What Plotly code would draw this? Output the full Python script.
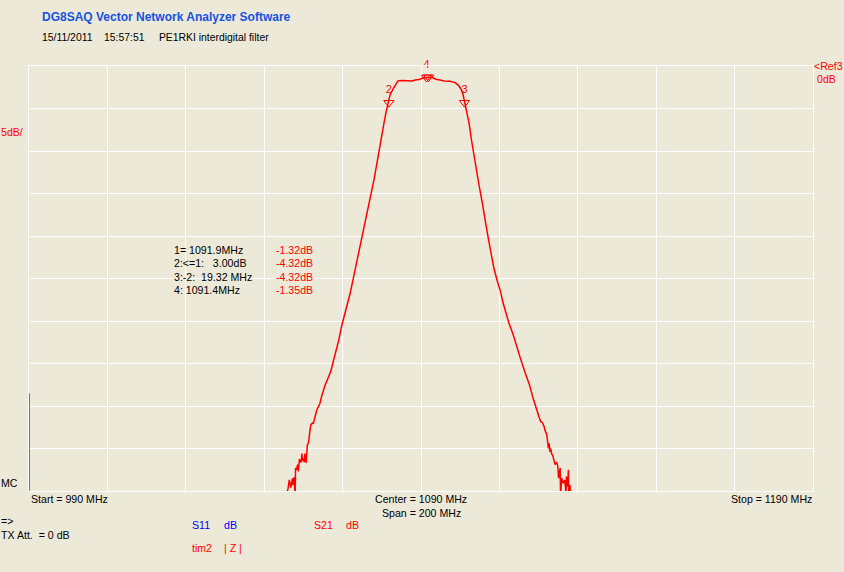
import plotly.graph_objects as go

# ---------------- data ----------------
# S21 trace of the interdigital filter (MHz, dB); None separates the start glitch
freq_mhz = [990, 990, None,
            1055.0, 1055.3, 1056.1, 1056.4, 1056.8, 1057.0, 1057.2, 1057.4, 1057.6, 1057.9,
            1058.0, 1058.3, 1058.5, 1058.7, 1059.0, 1059.1, 1059.3, 1059.5, 1059.6, 1059.8,
            1060.0, 1060.2, 1060.4, 1060.7, 1060.8, 1061.0, 1061.3, 1061.4, 1061.7, 1061.9,
            1062.3, 1062.5, 1063.0, 1063.4, 1063.8, 1064.2, 1064.7, 1065.5, 1066.3, 1067.0,
            1067.6, 1068.3, 1069.1, 1069.8, 1070.9, 1071.9, 1072.9, 1073.9, 1074.9, 1076.0,
            1077.0, 1078.0, 1079.0, 1079.8, 1080.6, 1081.1, 1081.6, 1082.1, 1082.9, 1083.6,
            1084.1, 1085.2, 1086.4, 1087.7, 1088.5, 1089.5, 1090.3, 1091.3, 1091.8, 1092.8,
            1093.8, 1094.8, 1095.9, 1097.4, 1098.7, 1099.5, 1100.2, 1100.7, 1101.2, 1101.7,
            1102.3, 1102.8, 1103.3, 1104.0, 1104.8, 1105.6, 1106.3, 1107.1, 1107.9, 1108.6,
            1109.4, 1110.2, 1110.9, 1111.7, 1112.4, 1113.5, 1114.5, 1115.5, 1116.5, 1117.6,
            1118.6, 1119.1, 1119.5, 1119.9, 1120.2, 1120.5, 1121.0, 1121.4, 1121.6, 1122.1,
            1122.3, 1122.5, 1122.7, 1122.9, 1123.1, 1123.3, 1123.6, 1123.9, 1124.2, 1124.6,
            1124.9, 1125.1, 1125.5, 1125.6, 1125.9, 1126.3, 1126.7, 1127.0, 1127.1, 1127.4,
            1127.6, 1127.7, 1128.0, 1128.2, 1128.5]
s21_db = [-38.5, -52, None,
          -52.0, -51.0, -49.7, -48.7, -49.6, -48.9, -48.5, -49.3, -48.4, -50.5,
          -47.3, -47.5, -46.9, -47.7, -46.2, -46.7, -46.3, -46.6, -45.6, -46.4,
          -46.2, -46.6, -45.6, -46.7, -45.2, -44.6, -44.3, -43.6, -42.8, -42.2,
          -42.0, -42.1, -41.1, -40.5, -40.1, -39.7, -38.8, -37.6, -36.7, -35.9,
          -34.8, -33.6, -32.1, -30.5, -28.7, -26.8, -24.6, -22.4, -20.2, -18.1,
          -15.8, -13.4, -10.8, -8.5, -6.6, -5.4, -4.35, -3.4, -2.7, -2.1,
          -1.76, -1.7, -1.76, -1.76, -1.65, -1.6, -1.45, -1.35, -1.32, -1.35,
          -1.55, -1.65, -1.76, -1.8, -1.95, -2.25, -2.7, -3.3, -4.35, -5.4,
          -6.8, -8.5, -10.0, -12.0, -14.0, -16.0, -18.1, -20.1, -22.1, -23.8,
          -25.2, -26.4, -27.8, -29.2, -30.2, -31.6, -33.2, -34.6, -36.0, -37.4,
          -39.1, -39.9, -40.5, -41.1, -41.4, -41.8, -42.0, -42.4, -42.8, -43.4,
          -44.2, -45.0, -44.4, -45.4, -45.0, -45.6, -45.8, -46.4, -46.9, -46.6,
          -47.1, -48.5, -47.3, -50.5, -48.5, -49.1, -48.7, -50.5, -48.3, -49.5,
          -47.5, -50.5, -49.3, -51.5, -52.0]

# markers (MHz, dB); marker 1's number is hidden under marker 4's, as in the original
marker_ids = ["2", "3", "", "4"]
marker_freq = [1081.8, 1101.1, 1091.9, 1091.4]
marker_db = [-4.32, -4.32, -1.32, -1.35]

# marker readout table
table_labels = ["1= 1091.9MHz", "2:&lt;=1:\u00a0\u00a0 3.00dB", "3:-2:\u00a0 19.32 MHz", "4: 1091.4MHz"]
table_values = ["-1.32dB", "-4.32dB", "-4.32dB", "-1.35dB"]

x_start, x_stop, x_step = 990, 1190, 20
y_ref, y_bottom, y_step = 0, -50, 5

# ---------------- figure ----------------
BG = "#ECE9D8"
RED = "#FF0000"
BLUE = "#0000FF"
FONT = "Liberation Sans, Arial, sans-serif"
FS = 10.6

W, H = 844, 572
L, R, T, B = 29, 813, 66, 491


def px(x):
    return (x - L) / (R - L)


def py(y):
    return (B - y) / (B - T)


fig = go.Figure()
fig.add_trace(go.Scatter(x=freq_mhz, y=s21_db, mode="lines",
                         line=dict(color=RED, width=1.5), connectgaps=False,
                         hoverinfo="skip", showlegend=False))
fig.add_trace(go.Scatter(x=marker_freq, y=marker_db, mode="markers+text",
                         text=marker_ids, textposition="top center",
                         textfont=dict(family=FONT, size=11, color=RED),
                         marker=dict(symbol="triangle-down-open", size=9,
                                     color=RED, line=dict(color=RED, width=1)),
                         hoverinfo="skip", showlegend=False, cliponaxis=False))

annotations = []


def txt(x, y, s, color="black", anchor="left", size=FS, bold=False):
    if bold:
        s = "<b>" + s + "</b>"
    annotations.append(dict(x=px(x), y=py(y), xref="paper", yref="paper", text=s,
                            showarrow=False, xanchor=anchor, yanchor="middle",
                            borderpad=0,
                            font=dict(family=FONT, size=size, color=color)))


txt(41, 17, "DG8SAQ Vector Network Analyzer Software", color="#1452E0", size=12, bold=True)
txt(41, 37, "15/11/2011\u00a0\u00a0\u00a0 15:57:51\u00a0\u00a0\u00a0\u00a0 PE1RKI interdigital filter", size=10.4)
txt(813, 66, "&lt;Ref3", color=RED)
txt(816, 79, "0dB", color=RED)
txt(0, 132, "5dB/", color=RED)
txt(0, 483, "MC")
txt(30, 499, "Start = 990 MHz")
txt(421, 499, "Center = 1090 MHz", anchor="center")
txt(421, 513, "Span = 200 MHz", anchor="center")
txt(813, 499, "Stop = 1190 MHz", anchor="right")
txt(0, 521, "=&gt;")
txt(0, 535, "TX Att.\u00a0 = 0 dB")
txt(191, 525, "S11", color=BLUE)
txt(223, 525, "dB", color=BLUE)
txt(313, 525, "S21", color=RED)
txt(345, 525, "dB", color=RED)
txt(191, 548, "tim2", color=RED)
txt(223, 548, "| Z |", color=RED)

for i, (lab, val) in enumerate(zip(table_labels, table_values)):
    yy = 250 + i * 13.4
    txt(173, yy, lab)
    txt(275, yy, val, color=RED)

fig.update_layout(
    width=W, height=H,
    margin=dict(l=L, r=W - R, t=T, b=H - B, pad=0),
    paper_bgcolor=BG, plot_bgcolor=BG,
    showlegend=False,
    annotations=annotations,
    xaxis=dict(range=[x_start, x_stop], tick0=x_start, dtick=x_step,
               showticklabels=False, ticks="", showgrid=True, gridcolor="white",
               gridwidth=1, zeroline=False, showline=True, linecolor="white",
               linewidth=1, mirror=True, fixedrange=True),
    yaxis=dict(range=[y_bottom, y_ref], tick0=y_bottom, dtick=y_step,
               showticklabels=False, ticks="", showgrid=True, gridcolor="white",
               gridwidth=1, zeroline=False, showline=True, linecolor="white",
               linewidth=1, mirror=True, fixedrange=True),
)

fig.write_html("out.html",
               config={"displayModeBar": False, "staticPlot": True},
               post_script="document.body.style.margin='0';"
                           "document.body.style.padding='0';"
                           "document.body.style.background='#ECE9D8';")
